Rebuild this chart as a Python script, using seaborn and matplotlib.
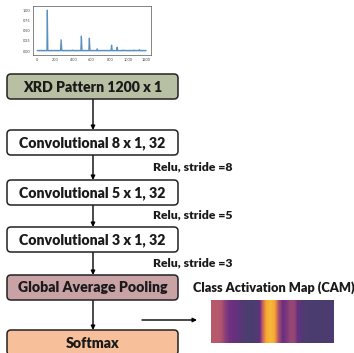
import numpy as np
import pandas as pd
import seaborn as sns
import matplotlib
matplotlib.use("Agg")
import matplotlib.pyplot as plt
from matplotlib.patches import FancyBboxPatch
from matplotlib.colors import LinearSegmentedColormap

# ---- data ----
# XRD pattern: sparse (index, intensity) points describing the peaks
xrd_index = [0, 108, 113, 118, 258, 265, 272, 385, 390, 395, 482, 488, 494, 570, 576, 582,
             655, 662, 669, 815, 821, 827, 876, 882, 888, 945, 950, 955, 1065, 1070, 1075,
             1122, 1128, 1134, 1200]
xrd_intensity = [0.02, 0.02, 1.00, 0.02, 0.02, 0.28, 0.02, 0.02, 0.03, 0.02, 0.02, 0.37, 0.02,
                 0.02, 0.32, 0.02, 0.02, 0.06, 0.02, 0.02, 0.15, 0.02, 0.02, 0.10, 0.02,
                 0.02, 0.03, 0.02, 0.02, 0.03, 0.02, 0.02, 0.04, 0.02, 0.02]
y_ticks = [0.0, 0.25, 0.5, 0.75, 1.0]
x_ticks = [0, 200, 400, 600, 800, 1000, 1200]

# Network layer boxes
box_labels = ["XRD Pattern 1200 x 1", "Convolutional 8 x 1, 32", "Convolutional 5 x 1, 32",
              "Convolutional 3 x 1, 32", "Global Average Pooling", "Softmax"]
box_colors = ["#b7c0a2", "#ffffff", "#ffffff", "#ffffff", "#c9a2a6", "#f8c09a"]
relu_labels = ["Relu, stride =8", "Relu, stride =5", "Relu, stride =3"]
cam_title = "Class Activation Map (CAM)"

# Class activation map values along the pattern
cam_values = [0.55, 0.55, 0.52, 0.40, 0.32, 0.30, 0.24, 0.12, 0.06, 0.05, 0.05, 0.10,
              0.55, 0.92, 1.00, 0.92, 0.50, 0.30, 0.36, 0.45, 0.42, 0.22, 0.08, 0.05,
              0.05, 0.05, 0.05, 0.05, 0.05, 0.05]

# ---- figure ----
W, H = 354, 353
fig = plt.figure(figsize=(W / 100, H / 100), dpi=100)
sns.set_style("white")
plt.rcParams['font.family'] = ['Lato', 'DejaVu Sans']

# main diagram axes in pixel coordinates
ax = fig.add_axes([0, 0, 1, 1])
ax.set_xlim(0, W)
ax.set_ylim(H, 0)
ax.axis("off")

box_top = [74, 130, 180, 227, 275, 330]
box_h = 25
bx0, bx1 = 7, 178
for lab, col, top in zip(box_labels, box_colors, box_top):
    p = FancyBboxPatch((bx0, top), bx1 - bx0, box_h,
                       boxstyle="round,pad=0,rounding_size=4",
                       fc=col, ec="#222222", lw=1.1, zorder=2)
    ax.add_patch(p)
    ax.text((bx0 + bx1) / 2, top + box_h / 2 + 0.5, lab, ha="center", va="center",
            fontsize=10.2, fontweight="heavy", color="#1a1a1a", zorder=3)

cx = 93
for i in range(len(box_top) - 1):
    y0 = box_top[i] + box_h
    y1 = box_top[i + 1]
    ax.annotate("", xy=(cx, y1), xytext=(cx, y0),
                arrowprops=dict(arrowstyle="-|>", color="black", lw=1.0,
                                mutation_scale=6, shrinkA=0, shrinkB=0), zorder=1)

relu_y = [167, 215, 263]
for lab, y in zip(relu_labels, relu_y):
    ax.text(153, y, lab, ha="left", va="center", fontsize=8.8, fontweight="heavy",
            color="#1a1a1a")

ax.text(193, 288, cam_title, ha="left", va="center", fontsize=9.2, fontweight="heavy",
        color="#1a1a1a")
ax.annotate("", xy=(197, 320), xytext=(142, 320),
            arrowprops=dict(arrowstyle="-|>", color="black", lw=1.0,
                            mutation_scale=6, shrinkA=0, shrinkB=0))

# ---- XRD pattern inset ----
axx = fig.add_axes([33 / W, 1 - 55 / H, 118 / W, 49 / H])
df = pd.DataFrame({"index": xrd_index, "intensity": xrd_intensity})
sns.lineplot(data=df, x="index", y="intensity", ax=axx, color="#5b8fbf", lw=0.9)
axx.fill_between(df["index"], 0, df["intensity"], color="#9dbcd8", alpha=0.6, lw=0)
axx.set_xlim(-45, 1255)
axx.set_ylim(-0.09, 1.1)
axx.set_xticks(x_ticks)
axx.set_yticks(y_ticks)
axx.set_xticklabels([str(t) for t in x_ticks])
axx.set_yticklabels([f"{t:.2f}" for t in y_ticks])
axx.tick_params(labelsize=2.8, length=1, width=0.4, pad=1, colors="#444444")
axx.set_xlabel("")
axx.set_ylabel("")
for s in axx.spines.values():
    s.set_linewidth(0.5)
    s.set_color("#555555")

# ---- CAM ----
axc = fig.add_axes([211 / W, 1 - 343 / H, 123 / W, 43 / H])
cmap = LinearSegmentedColormap.from_list(
    "cam", [(0.0, "#463f6d"), (0.3, "#6a2f80"), (0.55, "#b9596d"),
            (0.85, "#f29a30"), (1.0, "#f8b83a")])
axc.imshow(np.array(cam_values)[None, :], aspect="auto", cmap=cmap, vmin=0, vmax=1,
           interpolation="bilinear", extent=[0, len(cam_values), 0, 1])
axc.set_yticks([])
axc.set_xticks(np.linspace(0.5, len(cam_values) - 0.5, 7))
axc.set_xticklabels([])
axc.tick_params(axis="x", length=1.5, width=0.4, colors="#888888")
for s in axc.spines.values():
    s.set_visible(False)

fig.savefig("out.png", dpi=100)
